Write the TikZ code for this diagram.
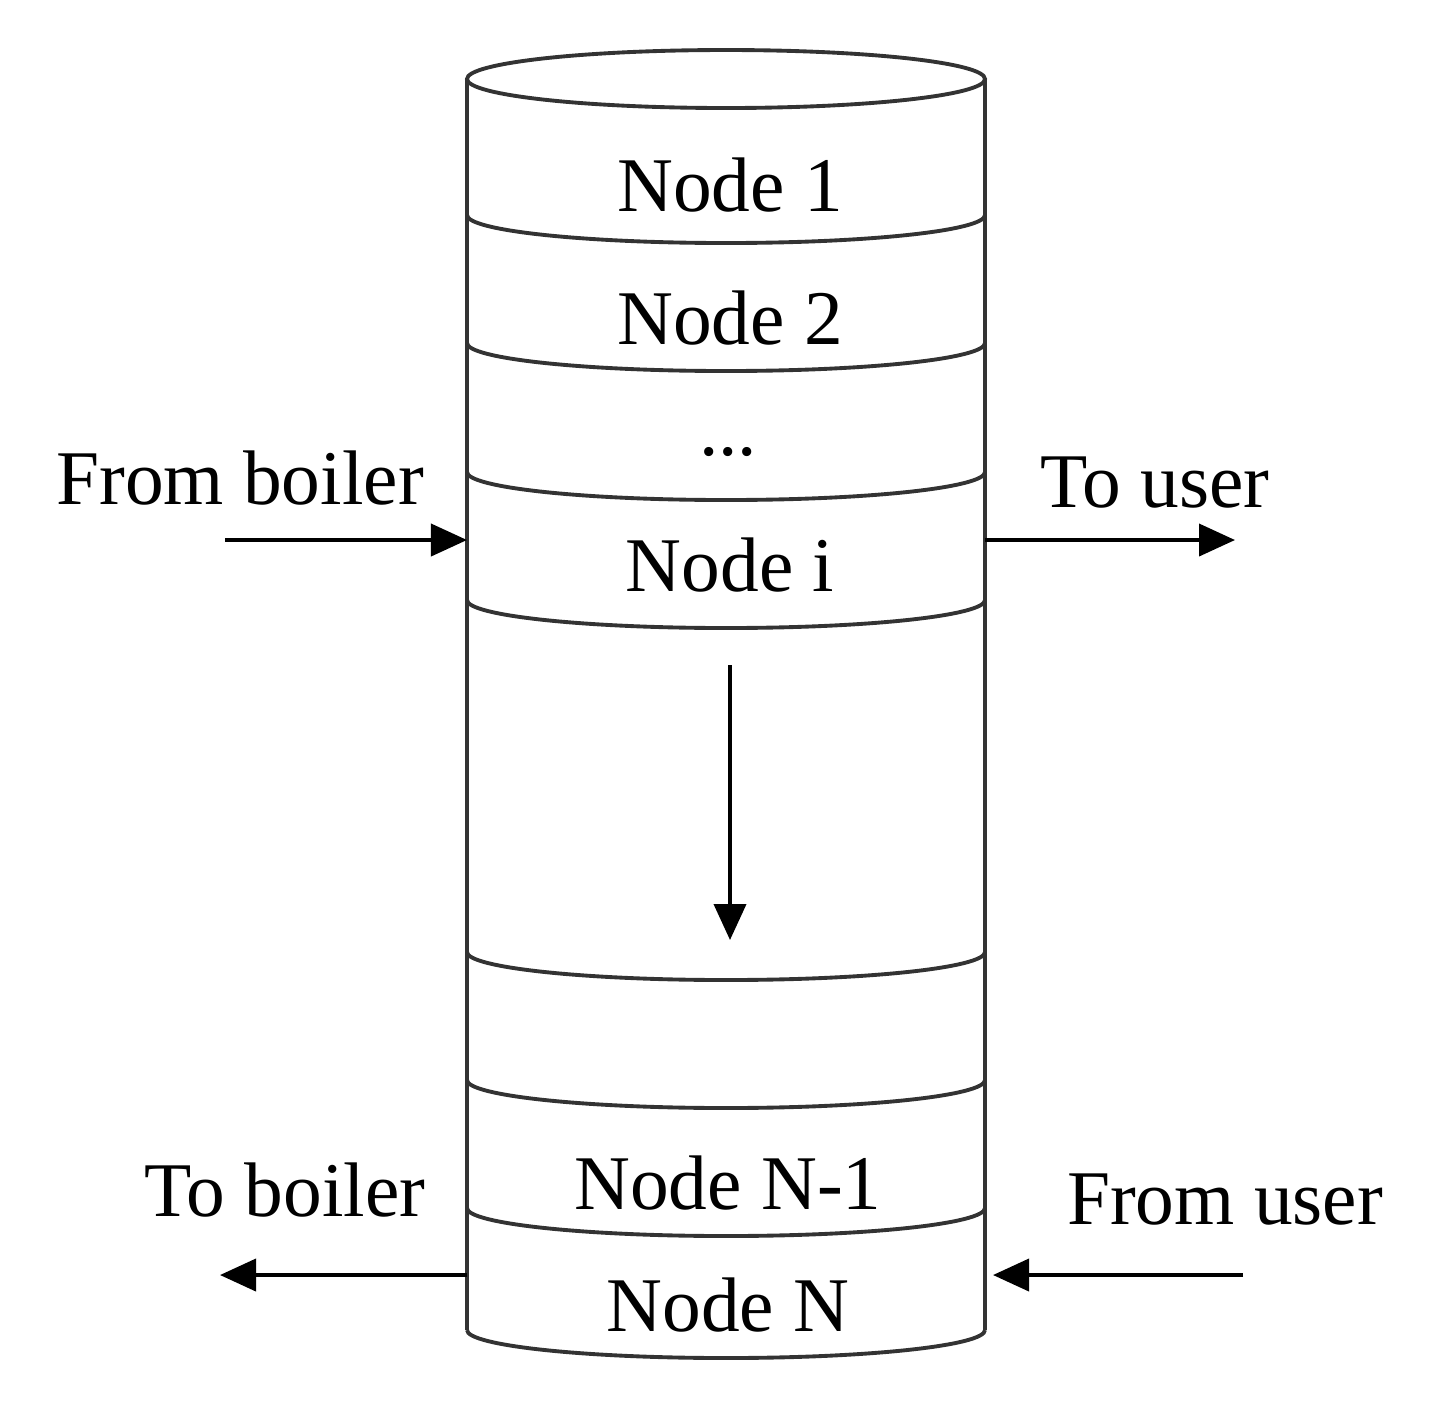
\documentclass[tikz,border=0pt]{standalone}
\usepackage{fontspec}
\setmainfont{Liberation Serif}
\usetikzlibrary{arrows.meta}
\begin{document}
\begin{tikzpicture}[x=0.01cm,y=-0.01cm,
  ln/.style={line width=1.1pt,draw=black!80},
  arr/.style={line width=1.1pt,-{Triangle[length=0.36cm,width=0.32cm]}},
  lbl/.style={font=\fontsize{22}{26}\selectfont,inner sep=0pt}]
\useasboundingbox (0,0) rectangle (1440,1408);
% cylinder
\draw[ln] (726,79) ellipse [x radius=259,y radius=29];
\draw[ln] (467,79) -- (467,1330);
\draw[ln] (985,79) -- (985,1330);
\foreach \y in {215,343,472,600,952,1080,1208,1330}
  \draw[ln] (467,\y) arc[start angle=180,end angle=0,x radius=259,y radius=28];
% labels
\node[lbl] (n1) at (730,185) {Node 1};
\node[lbl] (n2) at (730,318) {Node 2};
\node[lbl] (dots) at (728,452) {...};
\node[lbl] (ni) at (730,565) {Node i};
\node[lbl] (nn1) at (728,1183) {Node N-1};
\node[lbl] (nn) at (728,1305) {Node N};
\node[lbl] (fb) at (240,478) {From boiler};
\node[lbl] (tu) at (1155,483) {To user};
\node[lbl] (tb) at (285,1190) {To boiler};
\node[lbl] (fu) at (1225,1200) {From user};
% arrows
\coordinate (a1) at (225,540); \coordinate (a2) at (467,540);
\coordinate (b1) at (985,540); \coordinate (b2) at (1235,540);
\coordinate (c1) at (730,665); \coordinate (c2) at (730,940);
\coordinate (d1) at (467,1275); \coordinate (d2) at (220,1275);
\coordinate (e1) at (1243,1275); \coordinate (e2) at (993,1275);
\draw[arr] (a1) -- (a2);
\draw[arr] (b1) -- (b2);
\draw[arr] (c1) -- (c2);
\draw[arr] (d1) -- (d2);
\draw[arr] (e1) -- (e2);
\end{tikzpicture}
\end{document}
